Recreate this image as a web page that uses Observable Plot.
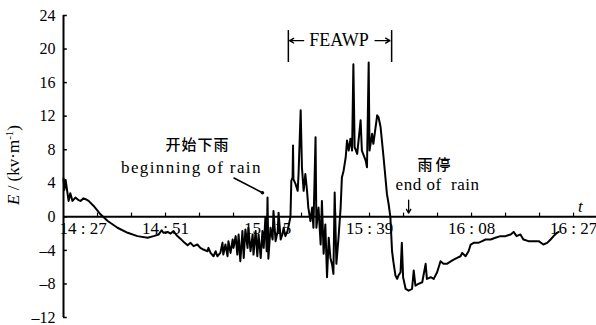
<!DOCTYPE html>
<html>
<head>
<meta charset="utf-8">
<script src="https://cdn.jsdelivr.net/npm/d3@7"></script>
<script src="https://cdn.jsdelivr.net/npm/@observablehq/plot@0.6"></script>
<style>
  body { margin: 0; background: #fff; }
  #chart svg { display: block; }
  .note-begin text { letter-spacing: 1.4px; }
  .note-end text { letter-spacing: 0.5px; }
  .note-cjk-begin text { letter-spacing: 1px; }
  .note-cjk-end text { letter-spacing: 3px; }
</style>
</head>
<body>
<div id="chart"></div>
<script>
// Atmospheric electric field E (kV/m) recorded 14:27–16:27, minutes after 14:27
const minutes = [
  0.0, 0.2, 0.5, 1.2, 1.6, 2.1, 2.8, 3.5, 4.0, 4.7, 5.2, 5.9, 7.1, 8.7, 10.4, 12.7, 15.1, 17.4, 19.8, 21.2,
  22.4, 23.1, 23.5, 24.5, 25.2, 25.9, 26.6, 27.5, 28.5, 29.2, 29.9, 30.6, 31.5, 32.2, 32.9, 33.9, 34.1, 34.6, 35.3, 35.8,
  36.2, 36.9, 37.4, 37.6, 38.1, 38.6, 38.8, 39.3, 39.8, 40.0, 40.5, 40.9, 41.2, 41.6, 42.1, 42.4, 42.8, 43.3, 43.5, 44.0,
  44.5, 44.7, 45.2, 45.6, 45.9, 46.4, 46.8, 47.1, 47.5, 47.8, 48.0, 48.2, 48.7, 49.2, 49.4, 49.9, 50.4, 50.6, 51.1, 51.5,
  51.8, 52.2, 52.7, 53.4, 53.6, 53.9, 54.0, 54.1, 54.6, 55.1, 55.3, 55.8, 56.1, 56.5, 56.9, 57.3, 57.6, 58.1, 58.5, 58.8,
  59.3, 59.5, 60.0, 60.5, 60.8, 61.2, 61.6, 62.0, 62.4, 62.8, 63.2, 63.5, 63.8, 64.2, 64.7, 65.2, 65.5, 65.9, 66.4, 66.7,
  67.1, 67.5, 67.9, 68.2, 68.5, 69.1, 69.9, 70.2, 71.1, 71.4, 71.8, 72.0, 72.6, 72.9, 73.8, 74.1, 74.6, 75.3, 76.1, 76.5,
  76.9, 77.3, 77.6, 78.1, 78.5, 78.8, 79.3, 79.6, 79.9, 80.5, 81.2, 82.0, 82.4, 82.8, 83.5, 84.4, 85.2, 85.5, 86.4, 87.1,
  87.9, 88.7, 89.4, 90.2, 91.1, 91.8, 92.6, 93.4, 93.8, 94.6, 95.3, 95.8, 96.5, 97.6, 98.5, 99.3, 100.5, 101.6, 102.8, 104.0,
  105.2, 105.9, 106.6, 107.5, 108.2, 109.4, 110.6, 111.8, 112.9, 113.8, 114.6, 115.3, 116.1, 116.5
];
const field = [
  4.6, 3.2, 4.4, 1.9, 2.8, 1.9, 2.3, 2.0, 1.9, 2.2, 2.1, 1.9, 1.3, 0.3, -0.5, -1.3, -1.9, -2.3, -2.5, -2.3,
  -2.1, -1.6, -1.9, -1.8, -2.0, -1.7, -2.2, -2.6, -3.1, -3.4, -3.1, -3.5, -3.3, -3.7, -3.9, -4.1, -3.7, -4.3, -4.7, -4.1,
  -4.7, -4.3, -3.1, -4.5, -3.3, -4.7, -2.9, -4.3, -2.7, -3.7, -2.3, -4.5, -2.1, -5.3, -1.7, -4.9, -1.5, -3.7, -1.3, -4.1,
  -2.1, -4.5, -1.7, -4.7, -2.1, -4.9, -1.7, -3.7, -0.1, -4.1, 2.3, -5.0, -1.3, -2.7, 0.7, -2.9, -1.7, 0.5, -2.7, -2.1,
  -1.3, -2.3, -1.7, 0.0, 4.3, 4.7, 8.5, 4.5, 3.9, 3.1, 5.1, 12.7, 5.9, 3.1, 5.1, 3.1, 1.1, -0.5, 1.1, -1.3,
  9.5, -1.3, 1.1, -3.3, 1.9, -4.4, -0.9, -7.2, -2.5, -4.9, -5.7, -6.8, 2.9, -5.6, -2.5, 1.1, 4.7, 5.5, 7.1, 9.1,
  7.9, 9.3, 7.9, 18.2, 8.3, 7.5, 11.5, 7.9, 6.7, 5.9, 18.4, 7.9, 9.9, 8.7, 12.1, 11.9, 10.7, 7.1, 2.7, 1.5,
  0.0, -4.1, -5.3, -7.0, -7.4, -7.0, -6.6, -3.1, -7.2, -8.6, -8.8, -8.6, -6.4, -8.2, -8.0, -7.8, -5.6, -7.4, -7.2, -7.4,
  -6.6, -5.3, -5.6, -5.6, -5.3, -5.1, -4.9, -4.7, -4.3, -4.7, -4.1, -3.3, -3.1, -3.1, -2.9, -2.7, -2.7, -2.5, -2.3, -2.3,
  -2.1, -1.8, -2.3, -2.1, -2.7, -2.9, -2.9, -2.9, -3.3, -3.1, -2.7, -2.3, -1.9, -1.8
];

// Axis ticks and labels
const xTicks = [0, 8, 16, 24, 32, 40, 48, 56, 64, 72, 80, 88, 96, 104, 112, 120];
const xLabelTicks = [0, 24, 48, 72, 96, 120];
const xTickLabels = ["14 : 27", "14 : 51", "15 : 15", "15 : 39", "16 : 08", "16 : 27"];
const yTicks = [-12, -8, -4, 0, 4, 8, 12, 16, 20, 24];
const yTickLabels = ["–12", "–8", "–4", "0", "4", "8", "12", "16", "20", "24"];

const series = minutes.map((m, i) => ({m, e: field[i]}));

const serif = "Liberation Serif";
const cjk = "Noto Sans CJK SC";

const chart = Plot.plot({
  width: 596,
  height: 325,
  marginLeft: 63,
  marginRight: 0,
  marginTop: 15,
  marginBottom: 8,
  style: {background: "#fff", color: "#000"},
  x: {domain: [0, 125.4], axis: null},
  y: {domain: [-12, 24], axis: null},
  marks: [
    // vertical axis with inward ticks
    Plot.ruleX([0], {stroke: "#000", strokeWidth: 2}),
    Plot.ruleY(yTicks, {x1: 0, x2: 0.9, stroke: "#000", strokeWidth: 1.5}),
    Plot.text(yTicks, {x: 0, y: d => d, text: (d, i) => yTickLabels[i], textAnchor: "end", dx: -8, fontSize: 16, fontFamily: serif}),
    // horizontal time axis through zero
    Plot.ruleY([0], {stroke: "#000", strokeWidth: 2}),
    Plot.ruleX(xTicks.slice(1), {y1: 0, y2: 0.45, stroke: "#000", strokeWidth: 1.2}),
    Plot.text(xLabelTicks.slice(0, 1), {x: d => d, y: 0, text: (d, i) => xTickLabels[i], textAnchor: "start", dx: -4, dy: 12, fontSize: 17, fontFamily: serif}),
    Plot.text(xLabelTicks.slice(1), {x: d => d, y: 0, text: (d, i) => xTickLabels[i + 1], dy: 12, fontSize: 17, fontFamily: serif}),
    Plot.text(["t"], {x: 121.6, y: 1.2, text: d => d, fontSize: 17, fontStyle: "italic", fontFamily: serif}),
    // field record
    Plot.line(series, {x: "m", y: "e", stroke: "#000", strokeWidth: 2, strokeLinejoin: "round"}),
    // onset of rain
    Plot.text(["开始下雨"], {x: 31.5, y: 8.5, text: d => d, fontFamily: cjk, fontSize: 15, fontWeight: 500, className: "note-cjk-begin"}),
    Plot.text(["beginning of rain"], {x: 30.1, y: 5.85, text: d => d, fontSize: 17, fontFamily: serif, className: "note-begin"}),
    Plot.link([0], {x1: 40.0, y1: 4.66, x2: 46.8, y2: 2.87, stroke: "#000", strokeWidth: 1.5}),
    Plot.dot([0], {x: 46.8, y: 2.87, r: 1.8, fill: "#000"}),
    // FEAWP interval
    Plot.ruleX([52.9, 77.2], {y1: 18.4, y2: 22.2, stroke: "#000", strokeWidth: 1.5}),
    Plot.arrow([0], {x1: 56.5, y1: 21.0, x2: 53.2, y2: 21.0, stroke: "#000", strokeWidth: 1.3, headLength: 6}),
    Plot.arrow([0], {x1: 73.3, y1: 21.0, x2: 76.8, y2: 21.0, stroke: "#000", strokeWidth: 1.3, headLength: 6}),
    Plot.text(["FEAWP"], {x: 64.8, y: 21.0, text: d => d, fontSize: 18, fontFamily: serif}),
    // end of rain
    Plot.text(["雨停"], {x: 87.5, y: 6.2, text: d => d, fontFamily: cjk, fontSize: 15, fontWeight: 500, className: "note-cjk-end"}),
    Plot.text(["end of  rain"], {x: 88.0, y: 3.8, text: d => d, fontSize: 17, fontFamily: serif, className: "note-end"}),
    Plot.arrow([0], {x1: 81.2, y1: 2.0, x2: 81.2, y2: 0.45, stroke: "#000", strokeWidth: 1.3, headLength: 6})
  ]
});

// y-axis title: E / (kV·m⁻¹)
const svg = d3.select(chart);
const title = svg.append("text")
  .attr("transform", "translate(19,165) rotate(-90)")
  .attr("text-anchor", "middle")
  .attr("font-family", serif)
  .attr("font-size", 17)
  .attr("fill", "#000");
title.append("tspan").attr("font-style", "italic").text("E");
title.append("tspan").text(" / (kv·m");
title.append("tspan").attr("font-size", 11).attr("dy", -6).text("-1");
title.append("tspan").attr("dy", 6).text(")");

document.getElementById("chart").append(chart);
</script>
</body>
</html>
